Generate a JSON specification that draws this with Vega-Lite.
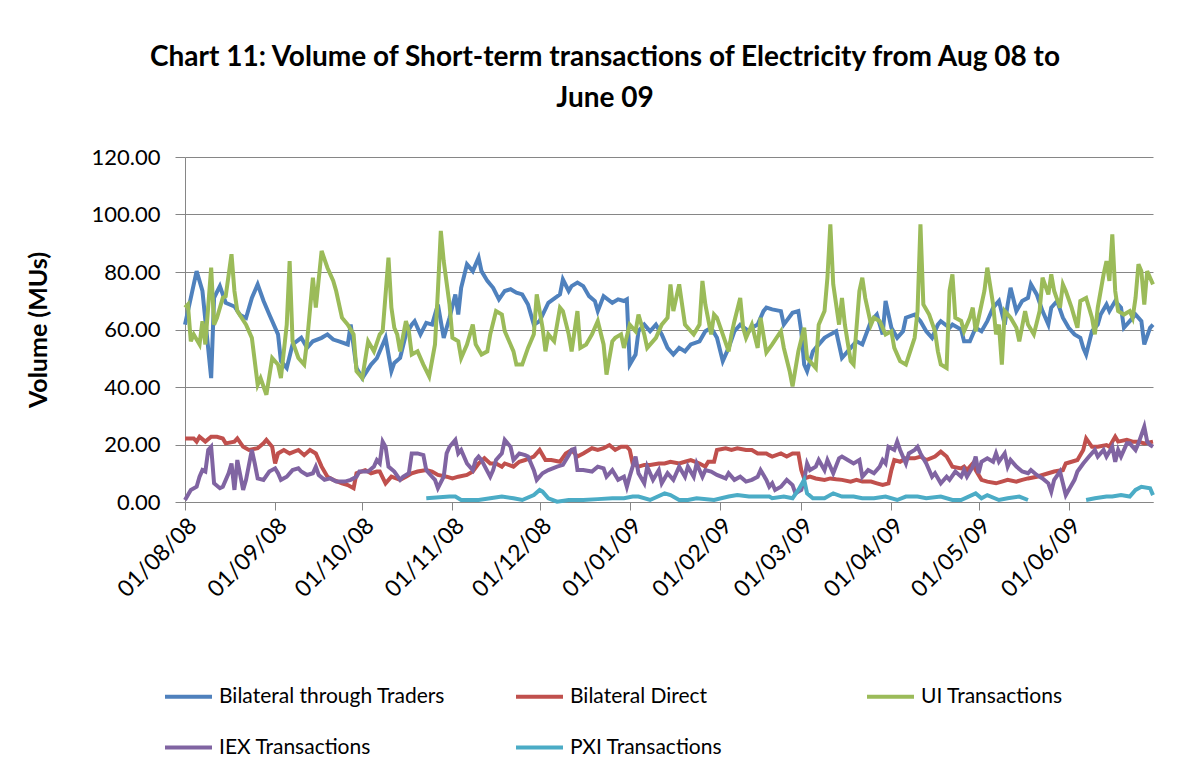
{
"$schema": "https://vega.github.io/schema/vega-lite/v6.json",
"width": 968, "height": 345,
"autosize": {"type": "none"},
"padding": {"left": 185, "top": 157, "right": 46, "bottom": 280},
"background": "white",
"title": {"text": ["Chart 11: Volume of Short-term transactions of Electricity from Aug 08 to", "June 09"], "font": "Lato", "fontSize": 28, "fontWeight": "bold", "color": "#000000", "lineHeight": 41, "anchor": "middle", "dx": -64, "offset": 33},
"data": {"values": [
{"d":"2008-08-01","s":"BT","v":61.7},{"d":"2008-08-05","s":"BT","v":80.3},{"d":"2008-08-07","s":"BT","v":73.4},{"d":"2008-08-10","s":"BT","v":43.1},{"d":"2008-08-11","s":"BT","v":71},{"d":"2008-08-13","s":"BT","v":75.1},{"d":"2008-08-15","s":"BT","v":69.3},{"d":"2008-08-18","s":"BT","v":68},{"d":"2008-08-20","s":"BT","v":65},{"d":"2008-08-22","s":"BT","v":64},{"d":"2008-08-24","s":"BT","v":71},{"d":"2008-08-26","s":"BT","v":75.7},{"d":"2008-08-28","s":"BT","v":70},{"d":"2008-08-30","s":"BT","v":65.2},{"d":"2008-09-02","s":"BT","v":58.3},{"d":"2008-09-03","s":"BT","v":49},{"d":"2008-09-05","s":"BT","v":46.6},{"d":"2008-09-07","s":"BT","v":54.8},{"d":"2008-09-10","s":"BT","v":57.1},{"d":"2008-09-12","s":"BT","v":53.6},{"d":"2008-09-14","s":"BT","v":55.9},{"d":"2008-09-17","s":"BT","v":57.1},{"d":"2008-09-19","s":"BT","v":58.3},{"d":"2008-09-21","s":"BT","v":56.5},{"d":"2008-09-23","s":"BT","v":55.9},{"d":"2008-09-26","s":"BT","v":54.8},{"d":"2008-09-27","s":"BT","v":61.7},{"d":"2008-09-29","s":"BT","v":46.6},{"d":"2008-10-01","s":"BT","v":43.1},{"d":"2008-10-04","s":"BT","v":47.8},{"d":"2008-10-06","s":"BT","v":50},{"d":"2008-10-09","s":"BT","v":57.1},{"d":"2008-10-11","s":"BT","v":45.5},{"d":"2008-10-12","s":"BT","v":48.4},{"d":"2008-10-14","s":"BT","v":50.1},{"d":"2008-10-16","s":"BT","v":58.3},{"d":"2008-10-18","s":"BT","v":61.7},{"d":"2008-10-19","s":"BT","v":62.9},{"d":"2008-10-21","s":"BT","v":58.3},{"d":"2008-10-23","s":"BT","v":62.3},{"d":"2008-10-25","s":"BT","v":61.7},{"d":"2008-10-26","s":"BT","v":65.2},{"d":"2008-10-27","s":"BT","v":68.7},{"d":"2008-10-29","s":"BT","v":57.1},{"d":"2008-10-31","s":"BT","v":64.1},{"d":"2008-11-02","s":"BT","v":72.2},{"d":"2008-11-03","s":"BT","v":65.2},{"d":"2008-11-04","s":"BT","v":74.5},{"d":"2008-11-06","s":"BT","v":82.7},{"d":"2008-11-08","s":"BT","v":80.3},{"d":"2008-11-10","s":"BT","v":85},{"d":"2008-11-11","s":"BT","v":80.3},{"d":"2008-11-13","s":"BT","v":76.9},{"d":"2008-11-15","s":"BT","v":74.5},{"d":"2008-11-17","s":"BT","v":70.5},{"d":"2008-11-19","s":"BT","v":73.4},{"d":"2008-11-21","s":"BT","v":74},{"d":"2008-11-23","s":"BT","v":72.8},{"d":"2008-11-25","s":"BT","v":72.2},{"d":"2008-11-27","s":"BT","v":68.7},{"d":"2008-11-29","s":"BT","v":61.7},{"d":"2008-12-01","s":"BT","v":62.9},{"d":"2008-12-04","s":"BT","v":69.3},{"d":"2008-12-08","s":"BT","v":72.2},{"d":"2008-12-09","s":"BT","v":77.4},{"d":"2008-12-11","s":"BT","v":73.4},{"d":"2008-12-12","s":"BT","v":75.1},{"d":"2008-12-14","s":"BT","v":76.3},{"d":"2008-12-16","s":"BT","v":75.1},{"d":"2008-12-18","s":"BT","v":71.6},{"d":"2008-12-20","s":"BT","v":69.9},{"d":"2008-12-21","s":"BT","v":66.4},{"d":"2008-12-23","s":"BT","v":71.6},{"d":"2008-12-26","s":"BT","v":69.3},{"d":"2008-12-28","s":"BT","v":70.5},{"d":"2008-12-30","s":"BT","v":69.9},{"d":"2008-12-31","s":"BT","v":70.5},{"d":"2009-01-01","s":"BT","v":47.8},{"d":"2009-01-03","s":"BT","v":51.3},{"d":"2009-01-04","s":"BT","v":59.4},{"d":"2009-01-06","s":"BT","v":61.7},{"d":"2009-01-08","s":"BT","v":59.4},{"d":"2009-01-10","s":"BT","v":61.7},{"d":"2009-01-12","s":"BT","v":58.3},{"d":"2009-01-14","s":"BT","v":53.6},{"d":"2009-01-16","s":"BT","v":51.3},{"d":"2009-01-18","s":"BT","v":53.6},{"d":"2009-01-20","s":"BT","v":52.4},{"d":"2009-01-22","s":"BT","v":54.8},{"d":"2009-01-25","s":"BT","v":55.9},{"d":"2009-01-27","s":"BT","v":59.4},{"d":"2009-01-29","s":"BT","v":60.6},{"d":"2009-01-31","s":"BT","v":57.1},{"d":"2009-02-02","s":"BT","v":49},{"d":"2009-02-04","s":"BT","v":53.6},{"d":"2009-02-06","s":"BT","v":59.4},{"d":"2009-02-08","s":"BT","v":61.7},{"d":"2009-02-11","s":"BT","v":59.4},{"d":"2009-02-12","s":"BT","v":60.6},{"d":"2009-02-14","s":"BT","v":61.7},{"d":"2009-02-16","s":"BT","v":66.4},{"d":"2009-02-17","s":"BT","v":67.6},{"d":"2009-02-19","s":"BT","v":67},{"d":"2009-02-22","s":"BT","v":66.4},{"d":"2009-02-23","s":"BT","v":61.7},{"d":"2009-02-26","s":"BT","v":65.8},{"d":"2009-02-28","s":"BT","v":66.4},{"d":"2009-03-01","s":"BT","v":59.4},{"d":"2009-03-02","s":"BT","v":47.8},{"d":"2009-03-03","s":"BT","v":45.5},{"d":"2009-03-05","s":"BT","v":52.4},{"d":"2009-03-06","s":"BT","v":53.6},{"d":"2009-03-09","s":"BT","v":57.1},{"d":"2009-03-11","s":"BT","v":58.3},{"d":"2009-03-13","s":"BT","v":59.4},{"d":"2009-03-15","s":"BT","v":50.1},{"d":"2009-03-18","s":"BT","v":53.6},{"d":"2009-03-20","s":"BT","v":55.9},{"d":"2009-03-22","s":"BT","v":54.8},{"d":"2009-03-25","s":"BT","v":62.9},{"d":"2009-03-27","s":"BT","v":65.2},{"d":"2009-03-29","s":"BT","v":58.3},{"d":"2009-03-30","s":"BT","v":69.9},{"d":"2009-04-01","s":"BT","v":60.6},{"d":"2009-04-03","s":"BT","v":57.1},{"d":"2009-04-05","s":"BT","v":59.4},{"d":"2009-04-06","s":"BT","v":64.1},{"d":"2009-04-09","s":"BT","v":65.2},{"d":"2009-04-11","s":"BT","v":62.9},{"d":"2009-04-13","s":"BT","v":59.4},{"d":"2009-04-15","s":"BT","v":57.1},{"d":"2009-04-17","s":"BT","v":61.7},{"d":"2009-04-18","s":"BT","v":62.9},{"d":"2009-04-21","s":"BT","v":60.6},{"d":"2009-04-22","s":"BT","v":61.7},{"d":"2009-04-25","s":"BT","v":60},{"d":"2009-04-26","s":"BT","v":55.9},{"d":"2009-04-28","s":"BT","v":55.9},{"d":"2009-04-30","s":"BT","v":60.6},{"d":"2009-05-02","s":"BT","v":59.4},{"d":"2009-05-04","s":"BT","v":62.9},{"d":"2009-05-06","s":"BT","v":67.6},{"d":"2009-05-08","s":"BT","v":69.9},{"d":"2009-05-10","s":"BT","v":61.7},{"d":"2009-05-11","s":"BT","v":68.7},{"d":"2009-05-12","s":"BT","v":74.5},{"d":"2009-05-14","s":"BT","v":66.4},{"d":"2009-05-16","s":"BT","v":69.9},{"d":"2009-05-18","s":"BT","v":71},{"d":"2009-05-19","s":"BT","v":75.7},{"d":"2009-05-21","s":"BT","v":72.2},{"d":"2009-05-23","s":"BT","v":66.4},{"d":"2009-05-25","s":"BT","v":61.7},{"d":"2009-05-26","s":"BT","v":67.6},{"d":"2009-05-28","s":"BT","v":69.9},{"d":"2009-05-30","s":"BT","v":64.1},{"d":"2009-06-01","s":"BT","v":60.6},{"d":"2009-06-03","s":"BT","v":58.3},{"d":"2009-06-05","s":"BT","v":57.1},{"d":"2009-06-06","s":"BT","v":53.6},{"d":"2009-06-07","s":"BT","v":51.3},{"d":"2009-06-09","s":"BT","v":59.4},{"d":"2009-06-11","s":"BT","v":61.7},{"d":"2009-06-12","s":"BT","v":65.2},{"d":"2009-06-14","s":"BT","v":68.7},{"d":"2009-06-15","s":"BT","v":66.4},{"d":"2009-06-17","s":"BT","v":69.9},{"d":"2009-06-19","s":"BT","v":67.6},{"d":"2009-06-20","s":"BT","v":60.6},{"d":"2009-06-22","s":"BT","v":62.9},{"d":"2009-06-24","s":"BT","v":65.2},{"d":"2009-06-26","s":"BT","v":62.9},{"d":"2009-06-27","s":"BT","v":54.8},{"d":"2009-06-29","s":"BT","v":60.6},{"d":"2009-06-30","s":"BT","v":61.7},
{"d":"2008-08-01","s":"BD","v":22.1},{"d":"2008-08-04","s":"BD","v":22.1},{"d":"2008-08-05","s":"BD","v":21},{"d":"2008-08-06","s":"BD","v":22.7},{"d":"2008-08-08","s":"BD","v":21},{"d":"2008-08-10","s":"BD","v":22.7},{"d":"2008-08-12","s":"BD","v":22.7},{"d":"2008-08-14","s":"BD","v":22.1},{"d":"2008-08-15","s":"BD","v":20.4},{"d":"2008-08-18","s":"BD","v":21},{"d":"2008-08-19","s":"BD","v":22.1},{"d":"2008-08-21","s":"BD","v":19.2},{"d":"2008-08-23","s":"BD","v":18.1},{"d":"2008-08-26","s":"BD","v":18.7},{"d":"2008-08-28","s":"BD","v":20.4},{"d":"2008-08-29","s":"BD","v":21.6},{"d":"2008-08-31","s":"BD","v":19.2},{"d":"2008-09-01","s":"BD","v":13.4},{"d":"2008-09-02","s":"BD","v":16.9},{"d":"2008-09-04","s":"BD","v":18.1},{"d":"2008-09-06","s":"BD","v":16.9},{"d":"2008-09-09","s":"BD","v":18.1},{"d":"2008-09-11","s":"BD","v":16.3},{"d":"2008-09-13","s":"BD","v":18.1},{"d":"2008-09-15","s":"BD","v":16.9},{"d":"2008-09-17","s":"BD","v":12.3},{"d":"2008-09-19","s":"BD","v":8.8},{"d":"2008-09-21","s":"BD","v":7.7},{"d":"2008-09-24","s":"BD","v":6.5},{"d":"2008-09-26","s":"BD","v":5.9},{"d":"2008-09-28","s":"BD","v":4.8},{"d":"2008-09-29","s":"BD","v":10},{"d":"2008-10-02","s":"BD","v":11.1},{"d":"2008-10-04","s":"BD","v":10},{"d":"2008-10-06","s":"BD","v":10.6},{"d":"2008-10-07","s":"BD","v":10.6},{"d":"2008-10-09","s":"BD","v":6.5},{"d":"2008-10-11","s":"BD","v":8.8},{"d":"2008-10-14","s":"BD","v":7.7},{"d":"2008-10-16","s":"BD","v":8.8},{"d":"2008-10-18","s":"BD","v":10},{"d":"2008-10-20","s":"BD","v":10.6},{"d":"2008-10-23","s":"BD","v":11.1},{"d":"2008-10-25","s":"BD","v":10.6},{"d":"2008-10-27","s":"BD","v":9.4},{"d":"2008-10-30","s":"BD","v":8.8},{"d":"2008-11-01","s":"BD","v":8.2},{"d":"2008-11-03","s":"BD","v":8.8},{"d":"2008-11-06","s":"BD","v":9.4},{"d":"2008-11-08","s":"BD","v":10.6},{"d":"2008-11-10","s":"BD","v":13.4},{"d":"2008-11-12","s":"BD","v":15.2},{"d":"2008-11-14","s":"BD","v":13.4},{"d":"2008-11-16","s":"BD","v":13.4},{"d":"2008-11-18","s":"BD","v":12.3},{"d":"2008-11-19","s":"BD","v":13.4},{"d":"2008-11-22","s":"BD","v":12.3},{"d":"2008-11-24","s":"BD","v":14},{"d":"2008-11-26","s":"BD","v":14.6},{"d":"2008-11-29","s":"BD","v":15.8},{"d":"2008-12-01","s":"BD","v":18.1},{"d":"2008-12-03","s":"BD","v":14.6},{"d":"2008-12-05","s":"BD","v":14.6},{"d":"2008-12-08","s":"BD","v":14},{"d":"2008-12-10","s":"BD","v":16.9},{"d":"2008-12-12","s":"BD","v":18.1},{"d":"2008-12-14","s":"BD","v":15.8},{"d":"2008-12-16","s":"BD","v":16.9},{"d":"2008-12-19","s":"BD","v":18.7},{"d":"2008-12-21","s":"BD","v":18.1},{"d":"2008-12-23","s":"BD","v":18.7},{"d":"2008-12-25","s":"BD","v":19.8},{"d":"2008-12-27","s":"BD","v":18.1},{"d":"2008-12-29","s":"BD","v":19.2},{"d":"2008-12-31","s":"BD","v":19.2},{"d":"2009-01-01","s":"BD","v":18.1},{"d":"2009-01-02","s":"BD","v":13.4},{"d":"2009-01-04","s":"BD","v":12.3},{"d":"2009-01-06","s":"BD","v":12.9},{"d":"2009-01-08","s":"BD","v":12.9},{"d":"2009-01-11","s":"BD","v":13.4},{"d":"2009-01-13","s":"BD","v":13.4},{"d":"2009-01-15","s":"BD","v":14},{"d":"2009-01-18","s":"BD","v":13.4},{"d":"2009-01-20","s":"BD","v":14},{"d":"2009-01-22","s":"BD","v":14.6},{"d":"2009-01-25","s":"BD","v":13.4},{"d":"2009-01-27","s":"BD","v":12.3},{"d":"2009-01-28","s":"BD","v":14},{"d":"2009-01-30","s":"BD","v":14},{"d":"2009-01-31","s":"BD","v":18.1},{"d":"2009-02-03","s":"BD","v":18.7},{"d":"2009-02-05","s":"BD","v":18.1},{"d":"2009-02-07","s":"BD","v":18.7},{"d":"2009-02-10","s":"BD","v":18.1},{"d":"2009-02-12","s":"BD","v":18.1},{"d":"2009-02-14","s":"BD","v":16.9},{"d":"2009-02-17","s":"BD","v":16.9},{"d":"2009-02-18","s":"BD","v":16.3},{"d":"2009-02-19","s":"BD","v":15.8},{"d":"2009-02-22","s":"BD","v":16.9},{"d":"2009-02-24","s":"BD","v":15.8},{"d":"2009-02-26","s":"BD","v":16.9},{"d":"2009-02-28","s":"BD","v":16.9},{"d":"2009-03-01","s":"BD","v":11.1},{"d":"2009-03-02","s":"BD","v":8.2},{"d":"2009-03-04","s":"BD","v":8.8},{"d":"2009-03-06","s":"BD","v":8.2},{"d":"2009-03-09","s":"BD","v":7.7},{"d":"2009-03-11","s":"BD","v":8.2},{"d":"2009-03-13","s":"BD","v":7.9},{"d":"2009-03-15","s":"BD","v":7.7},{"d":"2009-03-18","s":"BD","v":7.1},{"d":"2009-03-20","s":"BD","v":7.7},{"d":"2009-03-22","s":"BD","v":7.1},{"d":"2009-03-25","s":"BD","v":7.1},{"d":"2009-03-27","s":"BD","v":6.5},{"d":"2009-03-29","s":"BD","v":5.9},{"d":"2009-03-31","s":"BD","v":6.5},{"d":"2009-04-01","s":"BD","v":11.1},{"d":"2009-04-02","s":"BD","v":14.6},{"d":"2009-04-04","s":"BD","v":14},{"d":"2009-04-06","s":"BD","v":15.2},{"d":"2009-04-09","s":"BD","v":15.2},{"d":"2009-04-11","s":"BD","v":15.8},{"d":"2009-04-13","s":"BD","v":14.6},{"d":"2009-04-16","s":"BD","v":15.8},{"d":"2009-04-18","s":"BD","v":17.5},{"d":"2009-04-20","s":"BD","v":15.8},{"d":"2009-04-22","s":"BD","v":12.3},{"d":"2009-04-25","s":"BD","v":11.7},{"d":"2009-04-26","s":"BD","v":12.3},{"d":"2009-04-27","s":"BD","v":11.1},{"d":"2009-04-29","s":"BD","v":13.4},{"d":"2009-04-30","s":"BD","v":11.1},{"d":"2009-05-02","s":"BD","v":7.7},{"d":"2009-05-04","s":"BD","v":7.1},{"d":"2009-05-07","s":"BD","v":6.5},{"d":"2009-05-09","s":"BD","v":7.1},{"d":"2009-05-11","s":"BD","v":7.7},{"d":"2009-05-14","s":"BD","v":7.1},{"d":"2009-05-16","s":"BD","v":7.7},{"d":"2009-05-18","s":"BD","v":8.2},{"d":"2009-05-21","s":"BD","v":8.8},{"d":"2009-05-23","s":"BD","v":9.4},{"d":"2009-05-25","s":"BD","v":10},{"d":"2009-05-27","s":"BD","v":10.6},{"d":"2009-05-30","s":"BD","v":11.1},{"d":"2009-05-31","s":"BD","v":13.4},{"d":"2009-06-02","s":"BD","v":14},{"d":"2009-06-04","s":"BD","v":14.6},{"d":"2009-06-06","s":"BD","v":18.1},{"d":"2009-06-07","s":"BD","v":22.1},{"d":"2009-06-09","s":"BD","v":19.2},{"d":"2009-06-11","s":"BD","v":19.2},{"d":"2009-06-14","s":"BD","v":19.8},{"d":"2009-06-15","s":"BD","v":19.2},{"d":"2009-06-17","s":"BD","v":22.7},{"d":"2009-06-18","s":"BD","v":21},{"d":"2009-06-21","s":"BD","v":21.6},{"d":"2009-06-23","s":"BD","v":21},{"d":"2009-06-25","s":"BD","v":21},{"d":"2009-06-27","s":"BD","v":20.4},{"d":"2009-06-30","s":"BD","v":21},
{"d":"2008-08-01","s":"UI","v":67.6},{"d":"2008-08-02","s":"UI","v":68.7},{"d":"2008-08-03","s":"UI","v":55.9},{"d":"2008-08-04","s":"UI","v":58.3},{"d":"2008-08-06","s":"UI","v":54.8},{"d":"2008-08-07","s":"UI","v":62.9},{"d":"2008-08-08","s":"UI","v":54.8},{"d":"2008-08-10","s":"UI","v":81.5},{"d":"2008-08-11","s":"UI","v":61.7},{"d":"2008-08-12","s":"UI","v":64.1},{"d":"2008-08-14","s":"UI","v":71},{"d":"2008-08-15","s":"UI","v":71.6},{"d":"2008-08-17","s":"UI","v":86.2},{"d":"2008-08-18","s":"UI","v":73.4},{"d":"2008-08-19","s":"UI","v":66.4},{"d":"2008-08-22","s":"UI","v":61.7},{"d":"2008-08-24","s":"UI","v":57.1},{"d":"2008-08-26","s":"UI","v":40.8},{"d":"2008-08-27","s":"UI","v":43.1},{"d":"2008-08-29","s":"UI","v":37.3},{"d":"2008-08-31","s":"UI","v":50.1},{"d":"2008-09-02","s":"UI","v":47.8},{"d":"2008-09-03","s":"UI","v":43.1},{"d":"2008-09-05","s":"UI","v":61.7},{"d":"2008-09-06","s":"UI","v":83.8},{"d":"2008-09-07","s":"UI","v":55.9},{"d":"2008-09-09","s":"UI","v":50.1},{"d":"2008-09-11","s":"UI","v":47.8},{"d":"2008-09-12","s":"UI","v":55.9},{"d":"2008-09-14","s":"UI","v":78},{"d":"2008-09-15","s":"UI","v":67.6},{"d":"2008-09-17","s":"UI","v":87.3},{"d":"2008-09-19","s":"UI","v":81.5},{"d":"2008-09-21","s":"UI","v":76.9},{"d":"2008-09-22","s":"UI","v":73.4},{"d":"2008-09-24","s":"UI","v":64.1},{"d":"2008-09-26","s":"UI","v":61.7},{"d":"2008-09-28","s":"UI","v":58.3},{"d":"2008-09-29","s":"UI","v":45.5},{"d":"2008-10-01","s":"UI","v":43.1},{"d":"2008-10-03","s":"UI","v":55.9},{"d":"2008-10-05","s":"UI","v":52.4},{"d":"2008-10-07","s":"UI","v":58.3},{"d":"2008-10-08","s":"UI","v":59.4},{"d":"2008-10-10","s":"UI","v":85},{"d":"2008-10-11","s":"UI","v":67.6},{"d":"2008-10-12","s":"UI","v":60.6},{"d":"2008-10-13","s":"UI","v":58.3},{"d":"2008-10-14","s":"UI","v":52.4},{"d":"2008-10-16","s":"UI","v":62.9},{"d":"2008-10-17","s":"UI","v":59.4},{"d":"2008-10-18","s":"UI","v":51.3},{"d":"2008-10-20","s":"UI","v":52.4},{"d":"2008-10-22","s":"UI","v":47.8},{"d":"2008-10-24","s":"UI","v":43.7},{"d":"2008-10-26","s":"UI","v":54.8},{"d":"2008-10-27","s":"UI","v":73.4},{"d":"2008-10-28","s":"UI","v":94.3},{"d":"2008-10-29","s":"UI","v":83.8},{"d":"2008-10-31","s":"UI","v":68.7},{"d":"2008-11-01","s":"UI","v":57.1},{"d":"2008-11-03","s":"UI","v":55.9},{"d":"2008-11-04","s":"UI","v":50.1},{"d":"2008-11-06","s":"UI","v":54.8},{"d":"2008-11-08","s":"UI","v":61.7},{"d":"2008-11-09","s":"UI","v":54.8},{"d":"2008-11-11","s":"UI","v":51.3},{"d":"2008-11-13","s":"UI","v":52.4},{"d":"2008-11-14","s":"UI","v":58.3},{"d":"2008-11-16","s":"UI","v":66.4},{"d":"2008-11-18","s":"UI","v":65.2},{"d":"2008-11-19","s":"UI","v":59.4},{"d":"2008-11-22","s":"UI","v":52.4},{"d":"2008-11-23","s":"UI","v":47.8},{"d":"2008-11-25","s":"UI","v":47.8},{"d":"2008-11-27","s":"UI","v":53.6},{"d":"2008-11-29","s":"UI","v":58.3},{"d":"2008-11-30","s":"UI","v":72.2},{"d":"2008-12-02","s":"UI","v":60.6},{"d":"2008-12-03","s":"UI","v":52.4},{"d":"2008-12-04","s":"UI","v":58.3},{"d":"2008-12-06","s":"UI","v":55.9},{"d":"2008-12-08","s":"UI","v":67.6},{"d":"2008-12-09","s":"UI","v":66.4},{"d":"2008-12-11","s":"UI","v":58.3},{"d":"2008-12-12","s":"UI","v":52.4},{"d":"2008-12-14","s":"UI","v":66.4},{"d":"2008-12-15","s":"UI","v":53.6},{"d":"2008-12-17","s":"UI","v":54.8},{"d":"2008-12-19","s":"UI","v":58.3},{"d":"2008-12-21","s":"UI","v":62.9},{"d":"2008-12-23","s":"UI","v":54.8},{"d":"2008-12-24","s":"UI","v":44.3},{"d":"2008-12-26","s":"UI","v":55.9},{"d":"2008-12-27","s":"UI","v":57.1},{"d":"2008-12-29","s":"UI","v":58.3},{"d":"2008-12-30","s":"UI","v":53.6},{"d":"2009-01-01","s":"UI","v":61.7},{"d":"2009-01-03","s":"UI","v":59.4},{"d":"2009-01-04","s":"UI","v":65.2},{"d":"2009-01-06","s":"UI","v":58.3},{"d":"2009-01-07","s":"UI","v":53.6},{"d":"2009-01-10","s":"UI","v":57.1},{"d":"2009-01-12","s":"UI","v":61.7},{"d":"2009-01-14","s":"UI","v":64.1},{"d":"2009-01-15","s":"UI","v":75.7},{"d":"2009-01-16","s":"UI","v":66.4},{"d":"2009-01-18","s":"UI","v":75.7},{"d":"2009-01-19","s":"UI","v":68.7},{"d":"2009-01-20","s":"UI","v":61.7},{"d":"2009-01-22","s":"UI","v":59.4},{"d":"2009-01-23","s":"UI","v":58.3},{"d":"2009-01-25","s":"UI","v":61.7},{"d":"2009-01-26","s":"UI","v":76.9},{"d":"2009-01-27","s":"UI","v":68.7},{"d":"2009-01-29","s":"UI","v":58.3},{"d":"2009-01-30","s":"UI","v":65.2},{"d":"2009-01-31","s":"UI","v":64.1},{"d":"2009-02-02","s":"UI","v":58.3},{"d":"2009-02-04","s":"UI","v":52.4},{"d":"2009-02-05","s":"UI","v":58.3},{"d":"2009-02-06","s":"UI","v":62.9},{"d":"2009-02-08","s":"UI","v":71},{"d":"2009-02-09","s":"UI","v":60.6},{"d":"2009-02-10","s":"UI","v":57.1},{"d":"2009-02-12","s":"UI","v":61.7},{"d":"2009-02-14","s":"UI","v":53.6},{"d":"2009-02-15","s":"UI","v":64.1},{"d":"2009-02-17","s":"UI","v":52},{"d":"2009-02-19","s":"UI","v":54.8},{"d":"2009-02-22","s":"UI","v":59.4},{"d":"2009-02-23","s":"UI","v":53.6},{"d":"2009-02-25","s":"UI","v":45.5},{"d":"2009-02-26","s":"UI","v":40.2},{"d":"2009-02-28","s":"UI","v":52.4},{"d":"2009-03-02","s":"UI","v":60.6},{"d":"2009-03-03","s":"UI","v":50.1},{"d":"2009-03-05","s":"UI","v":47.8},{"d":"2009-03-06","s":"UI","v":46.6},{"d":"2009-03-07","s":"UI","v":61.7},{"d":"2009-03-09","s":"UI","v":66.4},{"d":"2009-03-10","s":"UI","v":78},{"d":"2009-03-11","s":"UI","v":96.6},{"d":"2009-03-12","s":"UI","v":75.7},{"d":"2009-03-14","s":"UI","v":61.7},{"d":"2009-03-15","s":"UI","v":71},{"d":"2009-03-16","s":"UI","v":61.7},{"d":"2009-03-18","s":"UI","v":49},{"d":"2009-03-19","s":"UI","v":47.8},{"d":"2009-03-21","s":"UI","v":73.4},{"d":"2009-03-22","s":"UI","v":78},{"d":"2009-03-23","s":"UI","v":71},{"d":"2009-03-25","s":"UI","v":61.7},{"d":"2009-03-26","s":"UI","v":64.1},{"d":"2009-03-28","s":"UI","v":62.9},{"d":"2009-03-30","s":"UI","v":58.3},{"d":"2009-04-01","s":"UI","v":59.4},{"d":"2009-04-02","s":"UI","v":53.6},{"d":"2009-04-04","s":"UI","v":49},{"d":"2009-04-06","s":"UI","v":47.8},{"d":"2009-04-09","s":"UI","v":57.1},{"d":"2009-04-10","s":"UI","v":66.4},{"d":"2009-04-11","s":"UI","v":96.6},{"d":"2009-04-12","s":"UI","v":68.7},{"d":"2009-04-14","s":"UI","v":65.2},{"d":"2009-04-16","s":"UI","v":59.4},{"d":"2009-04-17","s":"UI","v":52.4},{"d":"2009-04-18","s":"UI","v":47.8},{"d":"2009-04-20","s":"UI","v":46.6},{"d":"2009-04-21","s":"UI","v":73.4},{"d":"2009-04-22","s":"UI","v":79.2},{"d":"2009-04-23","s":"UI","v":64.1},{"d":"2009-04-25","s":"UI","v":63},{"d":"2009-04-26","s":"UI","v":59.4},{"d":"2009-04-28","s":"UI","v":64.1},{"d":"2009-04-29","s":"UI","v":67.6},{"d":"2009-04-30","s":"UI","v":59.4},{"d":"2009-05-02","s":"UI","v":68.7},{"d":"2009-05-03","s":"UI","v":73.4},{"d":"2009-05-04","s":"UI","v":81.5},{"d":"2009-05-06","s":"UI","v":68.7},{"d":"2009-05-07","s":"UI","v":58.3},{"d":"2009-05-08","s":"UI","v":61.7},{"d":"2009-05-09","s":"UI","v":47.8},{"d":"2009-05-10","s":"UI","v":66.4},{"d":"2009-05-12","s":"UI","v":64.1},{"d":"2009-05-14","s":"UI","v":60.6},{"d":"2009-05-15","s":"UI","v":55.9},{"d":"2009-05-17","s":"UI","v":66.4},{"d":"2009-05-18","s":"UI","v":61.7},{"d":"2009-05-20","s":"UI","v":58.3},{"d":"2009-05-22","s":"UI","v":66.4},{"d":"2009-05-23","s":"UI","v":78},{"d":"2009-05-25","s":"UI","v":72.2},{"d":"2009-05-26","s":"UI","v":79.2},{"d":"2009-05-27","s":"UI","v":73.4},{"d":"2009-05-29","s":"UI","v":67.6},{"d":"2009-05-30","s":"UI","v":75.7},{"d":"2009-05-31","s":"UI","v":73.4},{"d":"2009-06-02","s":"UI","v":67.6},{"d":"2009-06-04","s":"UI","v":60.6},{"d":"2009-06-05","s":"UI","v":69.9},{"d":"2009-06-07","s":"UI","v":71},{"d":"2009-06-09","s":"UI","v":64.1},{"d":"2009-06-10","s":"UI","v":58.3},{"d":"2009-06-11","s":"UI","v":67.6},{"d":"2009-06-13","s":"UI","v":79.2},{"d":"2009-06-14","s":"UI","v":83.8},{"d":"2009-06-15","s":"UI","v":76.9},{"d":"2009-06-16","s":"UI","v":93.1},{"d":"2009-06-17","s":"UI","v":73.4},{"d":"2009-06-18","s":"UI","v":66.4},{"d":"2009-06-20","s":"UI","v":65.2},{"d":"2009-06-22","s":"UI","v":66.4},{"d":"2009-06-23","s":"UI","v":64.1},{"d":"2009-06-24","s":"UI","v":71},{"d":"2009-06-25","s":"UI","v":82.7},{"d":"2009-06-26","s":"UI","v":80.3},{"d":"2009-06-27","s":"UI","v":68.7},{"d":"2009-06-28","s":"UI","v":80.3},{"d":"2009-06-29","s":"UI","v":78},{"d":"2009-06-30","s":"UI","v":75.7},
{"d":"2008-08-01","s":"IEX","v":0.7},{"d":"2008-08-03","s":"IEX","v":4.2},{"d":"2008-08-05","s":"IEX","v":5.3},{"d":"2008-08-06","s":"IEX","v":8.8},{"d":"2008-08-07","s":"IEX","v":11.1},{"d":"2008-08-08","s":"IEX","v":10.6},{"d":"2008-08-09","s":"IEX","v":18.1},{"d":"2008-08-10","s":"IEX","v":19.2},{"d":"2008-08-11","s":"IEX","v":6.5},{"d":"2008-08-13","s":"IEX","v":4.8},{"d":"2008-08-14","s":"IEX","v":5.3},{"d":"2008-08-16","s":"IEX","v":10},{"d":"2008-08-17","s":"IEX","v":13.4},{"d":"2008-08-18","s":"IEX","v":4.2},{"d":"2008-08-19","s":"IEX","v":14.6},{"d":"2008-08-21","s":"IEX","v":4.2},{"d":"2008-08-22","s":"IEX","v":7.7},{"d":"2008-08-24","s":"IEX","v":18.1},{"d":"2008-08-25","s":"IEX","v":13.4},{"d":"2008-08-26","s":"IEX","v":8.2},{"d":"2008-08-28","s":"IEX","v":7.7},{"d":"2008-08-30","s":"IEX","v":10.6},{"d":"2008-09-01","s":"IEX","v":11.7},{"d":"2008-09-02","s":"IEX","v":10},{"d":"2008-09-03","s":"IEX","v":7.7},{"d":"2008-09-05","s":"IEX","v":8.8},{"d":"2008-09-07","s":"IEX","v":11.1},{"d":"2008-09-09","s":"IEX","v":11.7},{"d":"2008-09-10","s":"IEX","v":10.6},{"d":"2008-09-12","s":"IEX","v":9.4},{"d":"2008-09-14","s":"IEX","v":10},{"d":"2008-09-15","s":"IEX","v":12.3},{"d":"2008-09-16","s":"IEX","v":9.4},{"d":"2008-09-18","s":"IEX","v":7.7},{"d":"2008-09-20","s":"IEX","v":8.2},{"d":"2008-09-22","s":"IEX","v":7.1},{"d":"2008-09-25","s":"IEX","v":7.1},{"d":"2008-09-27","s":"IEX","v":7.7},{"d":"2008-09-29","s":"IEX","v":8.8},{"d":"2008-09-30","s":"IEX","v":10.6},{"d":"2008-10-03","s":"IEX","v":10.6},{"d":"2008-10-05","s":"IEX","v":12.3},{"d":"2008-10-06","s":"IEX","v":14.6},{"d":"2008-10-07","s":"IEX","v":13.5},{"d":"2008-10-08","s":"IEX","v":21},{"d":"2008-10-09","s":"IEX","v":19.2},{"d":"2008-10-10","s":"IEX","v":12.3},{"d":"2008-10-12","s":"IEX","v":10.6},{"d":"2008-10-14","s":"IEX","v":7.7},{"d":"2008-10-15","s":"IEX","v":8.8},{"d":"2008-10-17","s":"IEX","v":10},{"d":"2008-10-18","s":"IEX","v":16.9},{"d":"2008-10-20","s":"IEX","v":16.9},{"d":"2008-10-22","s":"IEX","v":16.3},{"d":"2008-10-23","s":"IEX","v":11.1},{"d":"2008-10-25","s":"IEX","v":8.8},{"d":"2008-10-26","s":"IEX","v":7.7},{"d":"2008-10-27","s":"IEX","v":4.8},{"d":"2008-10-29","s":"IEX","v":8.8},{"d":"2008-10-30","s":"IEX","v":16.9},{"d":"2008-10-31","s":"IEX","v":19.2},{"d":"2008-11-02","s":"IEX","v":21.6},{"d":"2008-11-03","s":"IEX","v":16.9},{"d":"2008-11-04","s":"IEX","v":18.1},{"d":"2008-11-06","s":"IEX","v":13.4},{"d":"2008-11-08","s":"IEX","v":11.1},{"d":"2008-11-09","s":"IEX","v":14.6},{"d":"2008-11-10","s":"IEX","v":15.8},{"d":"2008-11-11","s":"IEX","v":14.6},{"d":"2008-11-14","s":"IEX","v":8.8},{"d":"2008-11-15","s":"IEX","v":11.1},{"d":"2008-11-16","s":"IEX","v":14.6},{"d":"2008-11-18","s":"IEX","v":16.9},{"d":"2008-11-19","s":"IEX","v":21.6},{"d":"2008-11-21","s":"IEX","v":19.2},{"d":"2008-11-22","s":"IEX","v":14.6},{"d":"2008-11-24","s":"IEX","v":16.9},{"d":"2008-11-26","s":"IEX","v":16.3},{"d":"2008-11-27","s":"IEX","v":15.8},{"d":"2008-11-29","s":"IEX","v":11.1},{"d":"2008-11-30","s":"IEX","v":7.7},{"d":"2008-12-02","s":"IEX","v":10},{"d":"2008-12-04","s":"IEX","v":11.1},{"d":"2008-12-07","s":"IEX","v":12.3},{"d":"2008-12-09","s":"IEX","v":12.9},{"d":"2008-12-11","s":"IEX","v":16.3},{"d":"2008-12-12","s":"IEX","v":18.1},{"d":"2008-12-13","s":"IEX","v":18.5},{"d":"2008-12-14","s":"IEX","v":11.1},{"d":"2008-12-16","s":"IEX","v":11.1},{"d":"2008-12-19","s":"IEX","v":10.6},{"d":"2008-12-21","s":"IEX","v":12.3},{"d":"2008-12-23","s":"IEX","v":11.7},{"d":"2008-12-24","s":"IEX","v":8.8},{"d":"2008-12-26","s":"IEX","v":11.1},{"d":"2008-12-28","s":"IEX","v":7.7},{"d":"2008-12-30","s":"IEX","v":8.8},{"d":"2008-12-31","s":"IEX","v":5.3},{"d":"2009-01-01","s":"IEX","v":9},{"d":"2009-01-02","s":"IEX","v":12.3},{"d":"2009-01-03","s":"IEX","v":15.8},{"d":"2009-01-04","s":"IEX","v":10},{"d":"2009-01-06","s":"IEX","v":6.5},{"d":"2009-01-07","s":"IEX","v":12.3},{"d":"2009-01-09","s":"IEX","v":7.7},{"d":"2009-01-11","s":"IEX","v":11.1},{"d":"2009-01-12","s":"IEX","v":6.5},{"d":"2009-01-14","s":"IEX","v":10},{"d":"2009-01-16","s":"IEX","v":7.7},{"d":"2009-01-18","s":"IEX","v":12.3},{"d":"2009-01-20","s":"IEX","v":8.8},{"d":"2009-01-21","s":"IEX","v":12.3},{"d":"2009-01-23","s":"IEX","v":8.8},{"d":"2009-01-24","s":"IEX","v":13.4},{"d":"2009-01-26","s":"IEX","v":8.8},{"d":"2009-01-27","s":"IEX","v":11.1},{"d":"2009-01-29","s":"IEX","v":10.6},{"d":"2009-01-31","s":"IEX","v":9.4},{"d":"2009-02-03","s":"IEX","v":8.2},{"d":"2009-02-04","s":"IEX","v":10},{"d":"2009-02-06","s":"IEX","v":7.7},{"d":"2009-02-08","s":"IEX","v":8.8},{"d":"2009-02-10","s":"IEX","v":7.1},{"d":"2009-02-12","s":"IEX","v":7.7},{"d":"2009-02-14","s":"IEX","v":8.8},{"d":"2009-02-15","s":"IEX","v":11.1},{"d":"2009-02-17","s":"IEX","v":7.7},{"d":"2009-02-18","s":"IEX","v":5.3},{"d":"2009-02-19","s":"IEX","v":6.5},{"d":"2009-02-20","s":"IEX","v":4.2},{"d":"2009-02-22","s":"IEX","v":5.3},{"d":"2009-02-24","s":"IEX","v":7.7},{"d":"2009-02-26","s":"IEX","v":5.9},{"d":"2009-02-27","s":"IEX","v":3},{"d":"2009-03-01","s":"IEX","v":4.2},{"d":"2009-03-02","s":"IEX","v":7.7},{"d":"2009-03-03","s":"IEX","v":13.4},{"d":"2009-03-04","s":"IEX","v":11.1},{"d":"2009-03-06","s":"IEX","v":12.3},{"d":"2009-03-07","s":"IEX","v":14.6},{"d":"2009-03-09","s":"IEX","v":11.1},{"d":"2009-03-10","s":"IEX","v":14.6},{"d":"2009-03-12","s":"IEX","v":10},{"d":"2009-03-14","s":"IEX","v":15.2},{"d":"2009-03-15","s":"IEX","v":15.8},{"d":"2009-03-17","s":"IEX","v":14.6},{"d":"2009-03-19","s":"IEX","v":13.4},{"d":"2009-03-21","s":"IEX","v":14.6},{"d":"2009-03-22","s":"IEX","v":8.8},{"d":"2009-03-24","s":"IEX","v":11.1},{"d":"2009-03-26","s":"IEX","v":10},{"d":"2009-03-28","s":"IEX","v":12.3},{"d":"2009-03-29","s":"IEX","v":14.6},{"d":"2009-03-30","s":"IEX","v":13.4},{"d":"2009-03-31","s":"IEX","v":19.2},{"d":"2009-04-02","s":"IEX","v":18.1},{"d":"2009-04-03","s":"IEX","v":21},{"d":"2009-04-04","s":"IEX","v":18.1},{"d":"2009-04-06","s":"IEX","v":13.4},{"d":"2009-04-07","s":"IEX","v":16.9},{"d":"2009-04-09","s":"IEX","v":18.1},{"d":"2009-04-10","s":"IEX","v":19.2},{"d":"2009-04-11","s":"IEX","v":16.9},{"d":"2009-04-13","s":"IEX","v":13.4},{"d":"2009-04-15","s":"IEX","v":8.8},{"d":"2009-04-16","s":"IEX","v":10},{"d":"2009-04-18","s":"IEX","v":6.5},{"d":"2009-04-20","s":"IEX","v":8.8},{"d":"2009-04-21","s":"IEX","v":7.7},{"d":"2009-04-23","s":"IEX","v":10.6},{"d":"2009-04-25","s":"IEX","v":8.8},{"d":"2009-04-26","s":"IEX","v":11.1},{"d":"2009-04-27","s":"IEX","v":8.8},{"d":"2009-04-29","s":"IEX","v":12.3},{"d":"2009-04-30","s":"IEX","v":15.8},{"d":"2009-05-01","s":"IEX","v":10},{"d":"2009-05-02","s":"IEX","v":14},{"d":"2009-05-04","s":"IEX","v":15.2},{"d":"2009-05-06","s":"IEX","v":14},{"d":"2009-05-07","s":"IEX","v":16.9},{"d":"2009-05-08","s":"IEX","v":14},{"d":"2009-05-10","s":"IEX","v":16.9},{"d":"2009-05-11","s":"IEX","v":12.3},{"d":"2009-05-12","s":"IEX","v":14.6},{"d":"2009-05-14","s":"IEX","v":12.3},{"d":"2009-05-16","s":"IEX","v":10.6},{"d":"2009-05-18","s":"IEX","v":10},{"d":"2009-05-19","s":"IEX","v":11.1},{"d":"2009-05-21","s":"IEX","v":9.4},{"d":"2009-05-23","s":"IEX","v":8.2},{"d":"2009-05-25","s":"IEX","v":6.5},{"d":"2009-05-26","s":"IEX","v":3.6},{"d":"2009-05-27","s":"IEX","v":7.7},{"d":"2009-05-29","s":"IEX","v":10.6},{"d":"2009-05-30","s":"IEX","v":6.5},{"d":"2009-05-31","s":"IEX","v":2.4},{"d":"2009-06-01","s":"IEX","v":4.2},{"d":"2009-06-03","s":"IEX","v":7.7},{"d":"2009-06-04","s":"IEX","v":10.6},{"d":"2009-06-06","s":"IEX","v":13.4},{"d":"2009-06-08","s":"IEX","v":15.8},{"d":"2009-06-10","s":"IEX","v":18.1},{"d":"2009-06-11","s":"IEX","v":15.8},{"d":"2009-06-13","s":"IEX","v":18.1},{"d":"2009-06-14","s":"IEX","v":15.8},{"d":"2009-06-16","s":"IEX","v":19.2},{"d":"2009-06-17","s":"IEX","v":14},{"d":"2009-06-18","s":"IEX","v":18.1},{"d":"2009-06-19","s":"IEX","v":15.8},{"d":"2009-06-21","s":"IEX","v":20.4},{"d":"2009-06-22","s":"IEX","v":20.4},{"d":"2009-06-24","s":"IEX","v":18.1},{"d":"2009-06-25","s":"IEX","v":20.4},{"d":"2009-06-27","s":"IEX","v":26.2},{"d":"2009-06-28","s":"IEX","v":21},{"d":"2009-06-29","s":"IEX","v":19.8},{"d":"2009-06-30","s":"IEX","v":19.2},
{"d":"2008-10-23","s":"PXI","v":1.3},{"d":"2008-10-31","s":"PXI","v":1.9},{"d":"2008-11-02","s":"PXI","v":1.9},{"d":"2008-11-04","s":"PXI","v":0.7},{"d":"2008-11-07","s":"PXI","v":0.7},{"d":"2008-11-10","s":"PXI","v":0.7},{"d":"2008-11-14","s":"PXI","v":1.3},{"d":"2008-11-18","s":"PXI","v":1.9},{"d":"2008-11-22","s":"PXI","v":1.3},{"d":"2008-11-25","s":"PXI","v":0.7},{"d":"2008-11-29","s":"PXI","v":2.4},{"d":"2008-12-01","s":"PXI","v":4.2},{"d":"2008-12-02","s":"PXI","v":3.6},{"d":"2008-12-04","s":"PXI","v":1.3},{"d":"2008-12-07","s":"PXI","v":0.1},{"d":"2008-12-11","s":"PXI","v":0.7},{"d":"2008-12-16","s":"PXI","v":0.7},{"d":"2008-12-21","s":"PXI","v":1},{"d":"2008-12-26","s":"PXI","v":1.3},{"d":"2008-12-30","s":"PXI","v":1.3},{"d":"2009-01-02","s":"PXI","v":1.9},{"d":"2009-01-04","s":"PXI","v":1.9},{"d":"2009-01-08","s":"PXI","v":0.7},{"d":"2009-01-13","s":"PXI","v":3},{"d":"2009-01-15","s":"PXI","v":2.4},{"d":"2009-01-18","s":"PXI","v":0.7},{"d":"2009-01-21","s":"PXI","v":0.7},{"d":"2009-01-24","s":"PXI","v":1.3},{"d":"2009-01-30","s":"PXI","v":0.7},{"d":"2009-02-04","s":"PXI","v":1.9},{"d":"2009-02-07","s":"PXI","v":2.4},{"d":"2009-02-11","s":"PXI","v":1.9},{"d":"2009-02-14","s":"PXI","v":1.9},{"d":"2009-02-18","s":"PXI","v":1.9},{"d":"2009-02-19","s":"PXI","v":1.3},{"d":"2009-02-23","s":"PXI","v":1.9},{"d":"2009-02-26","s":"PXI","v":1.3},{"d":"2009-02-28","s":"PXI","v":4.2},{"d":"2009-03-02","s":"PXI","v":7.7},{"d":"2009-03-03","s":"PXI","v":3},{"d":"2009-03-05","s":"PXI","v":1.3},{"d":"2009-03-09","s":"PXI","v":1.3},{"d":"2009-03-12","s":"PXI","v":3},{"d":"2009-03-15","s":"PXI","v":1.9},{"d":"2009-03-19","s":"PXI","v":1.9},{"d":"2009-03-22","s":"PXI","v":1.3},{"d":"2009-03-26","s":"PXI","v":1.3},{"d":"2009-03-30","s":"PXI","v":1.9},{"d":"2009-04-03","s":"PXI","v":0.7},{"d":"2009-04-06","s":"PXI","v":1.9},{"d":"2009-04-10","s":"PXI","v":1.9},{"d":"2009-04-13","s":"PXI","v":1.3},{"d":"2009-04-18","s":"PXI","v":1.9},{"d":"2009-04-22","s":"PXI","v":0.7},{"d":"2009-04-25","s":"PXI","v":0.7},{"d":"2009-04-30","s":"PXI","v":3},{"d":"2009-05-02","s":"PXI","v":1.3},{"d":"2009-05-04","s":"PXI","v":2.4},{"d":"2009-05-08","s":"PXI","v":0.7},{"d":"2009-05-11","s":"PXI","v":1.3},{"d":"2009-05-15","s":"PXI","v":1.9},{"d":"2009-05-18","s":"PXI","v":0.7},{"d":"2009-05-28","s":"PXI","v":null},{"d":"2009-06-07","s":"PXI","v":0.7},{"d":"2009-06-10","s":"PXI","v":1.3},{"d":"2009-06-14","s":"PXI","v":1.9},{"d":"2009-06-16","s":"PXI","v":1.9},{"d":"2009-06-19","s":"PXI","v":2.4},{"d":"2009-06-22","s":"PXI","v":1.9},{"d":"2009-06-24","s":"PXI","v":4.2},{"d":"2009-06-26","s":"PXI","v":5.3},{"d":"2009-06-29","s":"PXI","v":4.8},{"d":"2009-06-30","s":"PXI","v":2.4}
]},
"mark": {"type": "line", "strokeWidth": 4, "invalid": "break-paths-filter-domains"},
"encoding": {
  "x": {"field": "d", "type": "temporal",
    "scale": {"type": "utc", "domain": [{"year": 2008, "month": 8, "date": 1, "utc": true}, {"year": 2009, "month": 6, "date": 30, "utc": true}]},
    "axis": {"title": null, "grid": false, "labelExpr": "utcFormat(datum.value, '%d/%m/%y')", "labelAngle": -45, "labelAlign": "right", "labelBaseline": "top", "labelFontSize": 23, "labelColor": "#000000", "labelPadding": 4, "tickSize": 8, "tickColor": "#868686", "domainColor": "#868686", "labelOverlap": false, "labelBound": false,
      "values": [{"year": 2008, "month": 8, "date": 1, "utc": true}, {"year": 2008, "month": 9, "date": 1, "utc": true}, {"year": 2008, "month": 10, "date": 1, "utc": true}, {"year": 2008, "month": 11, "date": 1, "utc": true}, {"year": 2008, "month": 12, "date": 1, "utc": true}, {"year": 2009, "month": 1, "date": 1, "utc": true}, {"year": 2009, "month": 2, "date": 1, "utc": true}, {"year": 2009, "month": 3, "date": 1, "utc": true}, {"year": 2009, "month": 4, "date": 1, "utc": true}, {"year": 2009, "month": 5, "date": 1, "utc": true}, {"year": 2009, "month": 6, "date": 1, "utc": true}]}},
  "y": {"field": "v", "type": "quantitative", "scale": {"domain": [0, 120], "nice": false},
    "axis": {"title": "Volume (MUs)", "titleFontSize": 25, "titleFontWeight": "bold", "titleColor": "#000000", "titlePadding": 40, "values": [0, 20, 40, 60, 80, 100, 120], "format": ".2f", "labelFontSize": 22, "labelColor": "#000000", "labelPadding": 15, "tickSize": 10, "tickColor": "#868686", "domainColor": "#868686", "grid": true, "gridColor": "#868686", "gridWidth": 1}},
  "color": {"field": "s", "type": "nominal",
    "scale": {"domain": ["BT", "BD", "UI", "IEX", "PXI"], "range": ["#4F81BD", "#C0504D", "#9BBB59", "#8064A2", "#4BACC6"]},
    "legend": {"title": null, "orient": "none", "legendX": -22, "legendY": 514, "direction": "horizontal", "columns": 3, "gridAlign": "all", "symbolType": "stroke", "symbolSize": 2209, "symbolStrokeWidth": 4, "labelFontSize": 21, "labelColor": "#000000", "labelOffset": 5, "labelLimit": 0, "columnPadding": 62, "rowPadding": 15,
      "labelExpr": "datum.value == 'BT' ? 'Bilateral through Traders' : datum.value == 'BD' ? 'Bilateral Direct' : datum.value == 'UI' ? 'UI Transactions' : datum.value == 'IEX' ? 'IEX Transactions' : 'PXI Transactions'"}}
},
"config": {"font": "Lato", "view": {"stroke": null}, "axis": {"labelFont": "Lato", "titleFont": "Lato"}, "legend": {"labelFont": "Lato"}}
}
